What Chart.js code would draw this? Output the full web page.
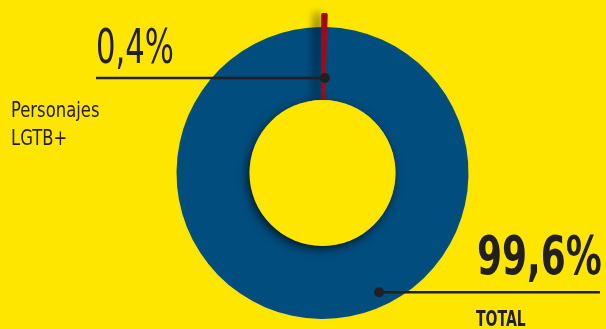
<!DOCTYPE html>
<html lang="es">
<head>
<meta charset="utf-8">
<title>Personajes LGTB+</title>
<script src="https://cdn.jsdelivr.net/npm/chart.js@4.4.1/dist/chart.umd.min.js"></script>
<style>
    html, body { margin: 0; padding: 0; overflow: hidden; background: #ffe600; }
    #wrap { position: relative; width: 606px; height: 340px; }
    #wrap canvas { position: absolute; left: 0; top: 0; }
    .txt {
        position: absolute;
        color: #231f20;
        font-family: "DejaVu Sans Condensed", "DejaVu Sans", sans-serif;
        font-stretch: condensed;
        line-height: 1;
        white-space: nowrap;
        transform-origin: 0 0;
    }
    #pctSmall { left: 96px; top: 22px; font-size: 48px; transform: scaleX(0.71); }
    #catName { left: 11px; top: 96px; font-size: 22px; line-height: 28px; transform: scaleX(0.83); }
    #pctBig { left: 477px; top: 229px; font-size: 54px; font-weight: bold; transform: scaleX(0.74); }
    #totalName { left: 476px; top: 308px; font-size: 22px; font-weight: bold; transform: scaleX(0.71); }
</style>
</head>
<body>
<div id="wrap">
    <canvas id="donut"></canvas>
    <div class="txt" id="pctSmall"></div>
    <div class="txt" id="catName">Personajes<br>LGTB+</div>
    <div class="txt" id="pctBig"></div>
    <div class="txt" id="totalName">TOTAL</div>
</div>

<script>
const categories = ['Personajes LGTB+', 'Resto'];
const shares = [0.4, 99.6];

const YELLOW = '#ffe600';
const BLUE = '#014d7e';
const RED = '#a30b1c';
const INK = '#231f20';

function pct(v) {
    return v.toFixed(1).replace('.', ',') + '%';
}

document.getElementById('pctSmall').textContent = pct(shares[0]);
document.getElementById('pctBig').textContent = pct(shares[1]);

// Shadows and leader lines drawn on top of the rings
const overlayPlugin = {
    id: 'overlay',
    afterDatasetsDraw(chart) {
        const ctx = chart.ctx;
        const outerMeta = chart.getDatasetMeta(0);
        const ringMeta = chart.getDatasetMeta(1);
        const redArc = ringMeta.data[0];
        const { x, y, innerRadius } = redArc;

        // red slice casts a soft shadow to the left
        ctx.save();
        ctx.shadowColor = 'rgba(0, 0, 0, 0.45)';
        ctx.shadowBlur = 9;
        ctx.shadowOffsetX = -7;
        redArc.draw(ctx);
        outerMeta.data[0].draw(ctx);
        ctx.restore();

        // inner hole with shadow falling on the ring
        ctx.save();
        ctx.shadowColor = 'rgba(0, 0, 0, 0.7)';
        ctx.shadowBlur = 10;
        ctx.shadowOffsetX = -2;
        ctx.shadowOffsetY = 3;
        ctx.beginPath();
        ctx.arc(x, y, innerRadius, 0, Math.PI * 2);
        ctx.fillStyle = YELLOW;
        ctx.fill();
        ctx.restore();

        // leader lines
        const callouts = [
            { angle: redArc.endAngle, r: innerRadius + 22, toX: 96 },
            { angle: (64.6 * Math.PI) / 180, r: innerRadius + 59, toX: 600 }
        ];
        ctx.save();
        ctx.strokeStyle = INK;
        ctx.fillStyle = INK;
        ctx.lineWidth = 2.5;
        callouts.forEach(c => {
            const px = x + Math.cos(c.angle) * c.r;
            const py = y + Math.sin(c.angle) * c.r;
            ctx.beginPath();
            ctx.moveTo(px, py);
            ctx.lineTo(c.toX, py);
            ctx.stroke();
            ctx.beginPath();
            ctx.arc(px, py, 5, 0, Math.PI * 2);
            ctx.fill();
        });
        ctx.restore();
    }
};

const canvas = document.getElementById('donut');
canvas.width = 606;
canvas.height = 340;

new Chart(canvas.getContext('2d'), {
    type: 'doughnut',
    data: {
        labels: categories,
        datasets: [
            {
                // thin outer ring: only the red slice sticks out
                data: shares,
                backgroundColor: [RED, 'rgba(0,0,0,0)'],
                borderColor: RED,
                borderWidth: [2, 0],
                weight: 13
            },
            {
                data: shares,
                backgroundColor: [RED, BLUE],
                borderColor: RED,
                borderWidth: [2, 0],
                weight: 73
            }
        ]
    },
    options: {
        responsive: false,
        animation: false,
        events: [],
        radius: 159,
        cutout: '45.9%',
        layout: { padding: { left: 162.5, right: 123.5, top: 13, bottom: 7 } },
        plugins: {
            legend: { display: false },
            tooltip: { enabled: false }
        }
    },
    plugins: [overlayPlugin]
});
</script>
</body>
</html>
